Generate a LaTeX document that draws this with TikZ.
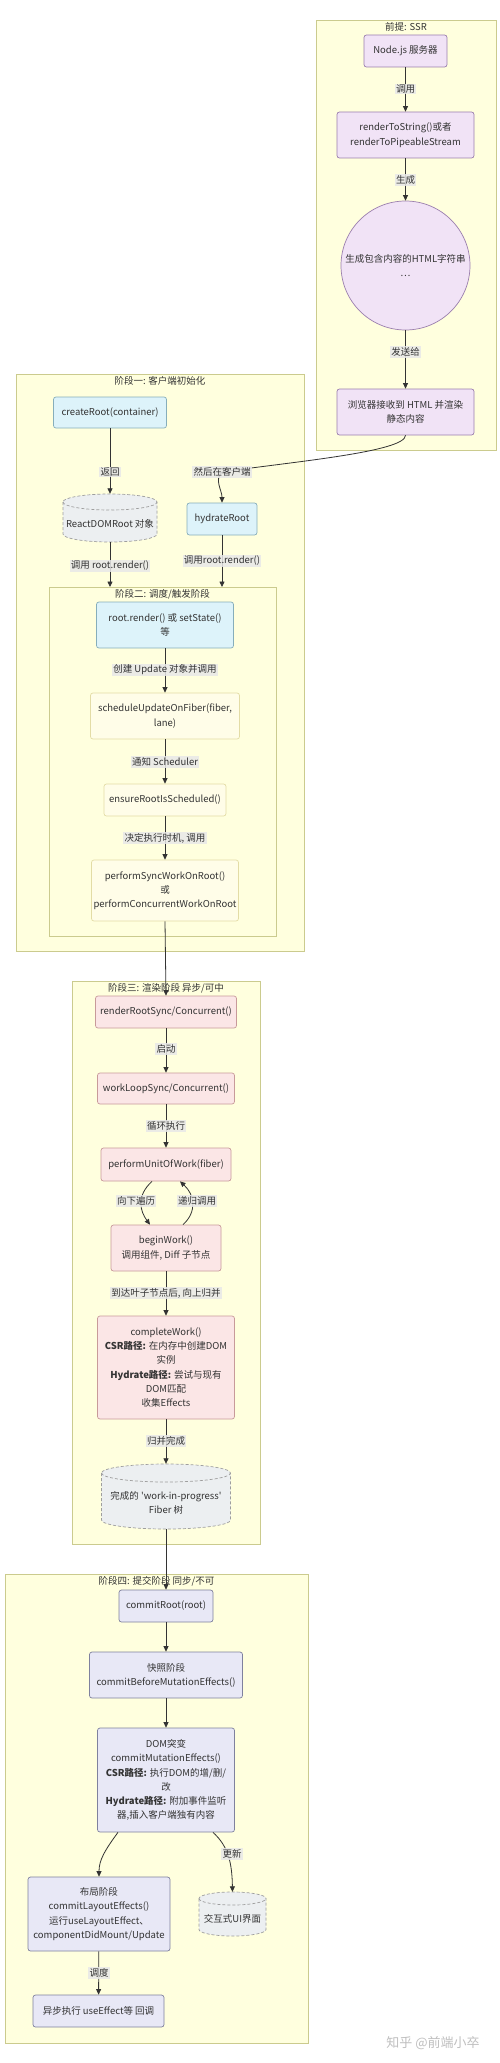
\documentclass[tikz,border=0pt]{standalone}
\usepackage{fontspec}
\setmainfont{Noto Sans CJK SC}
\usetikzlibrary{arrows.meta}
\definecolor{txt}{HTML}{333333}
\definecolor{edgec}{HTML}{333333}
\definecolor{lblbg}{HTML}{E8E8E8}
\definecolor{clfill}{HTML}{FFFFDE}
\definecolor{cldraw}{HTML}{CBCB8E}
\definecolor{ssrfill}{HTML}{F1E3F6}
\definecolor{ssrdraw}{HTML}{9B7FAE}
\definecolor{pAfill}{HTML}{DDF3FA}
\definecolor{pAdraw}{HTML}{86AEBB}
\definecolor{pBfill}{HTML}{FFFDE8}
\definecolor{pBdraw}{HTML}{E3DCA6}
\definecolor{pCfill}{HTML}{FBE6E6}
\definecolor{pCdraw}{HTML}{C89A9A}
\definecolor{pDfill}{HTML}{E8E8F6}
\definecolor{pDdraw}{HTML}{7F819E}
\definecolor{cylfill}{HTML}{ECEFF1}
\definecolor{cyldraw}{HTML}{9E9E9E}
\tikzset{
  cluster/.style={draw=cldraw, fill=clfill, line width=0.8pt},
  cltitle/.style={inner sep=0pt, text=txt, font=\fontsize{9.5}{12}\selectfont},
  nbox/.style={rectangle, rounded corners=2.5pt, line width=0.7pt, align=center, inner sep=0pt, text=txt, font=\fontsize{9.5}{14.2}\selectfont},
  ssrn/.style={nbox, draw=ssrdraw, fill=ssrfill},
  pAn/.style={nbox, draw=pAdraw, fill=pAfill},
  pBn/.style={nbox, draw=pBdraw, fill=pBfill},
  pCn/.style={nbox, draw=pCdraw, fill=pCfill},
  pDn/.style={nbox, draw=pDdraw, fill=pDfill},
  cylbox/.style={rectangle, inner sep=0pt},
  cyltxt/.style={inner sep=0pt, align=center, text=txt, font=\fontsize{9.5}{14.2}\selectfont},
  cylsty/.style={draw=cyldraw, fill=cylfill, line width=0.7pt, dash pattern=on 3pt off 2pt},
  conn/.style={draw=edgec, line width=0.8pt, -{Triangle[length=5.5pt,width=5pt]}},
  lbl/.style={fill=lblbg, fill opacity=0.85, text opacity=1, inner sep=1.2pt, text=txt, font=\fontsize{9.5}{12}\selectfont},
}
% cylinder: cx, cy, w, h, ry
\newcommand{\drawcyl}[5]{%
  \pgfmathsetmacro\cylL{#1-#3/2}\pgfmathsetmacro\cylR{#1+#3/2}%
  \pgfmathsetmacro\cylT{#2-#4/2+#5}\pgfmathsetmacro\cylB{#2+#4/2-#5}%
  \pgfmathsetmacro\cylkx{0.5523*#3/2}\pgfmathsetmacro\cylky{0.5523*#5}%
  \path[cylsty] (\cylL,\cylT) -- (\cylL,\cylB)
    .. controls (\cylL,\cylB+\cylky) and (#1-\cylkx,\cylB+#5) .. (#1,\cylB+#5)
    .. controls (#1+\cylkx,\cylB+#5) and (\cylR,\cylB+\cylky) .. (\cylR,\cylB)
    -- (\cylR,\cylT)
    .. controls (\cylR,\cylT-\cylky) and (#1+\cylkx,\cylT-#5) .. (#1,\cylT-#5)
    .. controls (#1-\cylkx,\cylT-#5) and (\cylL,\cylT-\cylky) .. (\cylL,\cylT) -- cycle;
  \draw[cylsty, fill=none] (\cylL,\cylT)
    .. controls (\cylL,\cylT+\cylky) and (#1-\cylkx,\cylT+#5) .. (#1,\cylT+#5)
    .. controls (#1+\cylkx,\cylT+#5) and (\cylR,\cylT+\cylky) .. (\cylR,\cylT);
}
\begin{document}
\begin{tikzpicture}[x=1pt,y=-1pt]
\useasboundingbox (0,0) rectangle (500,2063);
\fill[white] (0,0) rectangle (500,2063);

% clusters
\draw[cluster] (316,20) rectangle (496,450);
\node[cltitle] (t0) at (406,27) {前提: SSR};
\draw[cluster] (16,374) rectangle (304,951);
\node[cltitle] (t1) at (160,381) {阶段一: 客户端初始化};
\draw[cluster] (49,587) rectangle (276,936);
\node[cltitle] (t2) at (162.5,594) {阶段二: 调度/触发阶段};
\draw[cluster] (72,981) rectangle (260,1544);
\node[cltitle] (t3) at (166,988) {阶段三: 渲染阶段 异步/可中};
\draw[cluster] (5,1574) rectangle (308,2043);
\node[cltitle] (t4) at (156.5,1581) {阶段四: 提交阶段 同步/不可};

% SSR nodes
\node[ssrn, minimum width=83pt, minimum height=32pt] (nodejs) at (405.5,51) {Node.js 服务器};
\node[ssrn, minimum width=137pt, minimum height=46pt] (rts) at (405.5,135) {renderToString()或者\\renderToPipeableStream};
\node[ssrn, circle, minimum size=129pt] (html) at (405.5,265.5) {生成包含内容的HTML字符串\\…};
\node[ssrn, minimum width=137pt, minimum height=46pt] (browser) at (405.5,412) {浏览器接收到 HTML 并渲染\\静态内容};

% phase 1
\node[pAn, minimum width=113pt, minimum height=31pt] (create) at (110,412.5) {createRoot(container)};
\drawcyl{110}{518}{94}{48}{8}
\node[cylbox, minimum width=94pt, minimum height=48pt] (rdr) at (110,518) {};
\node[cyltxt] (rdrtxt) at (110,524) {ReactDOMRoot 对象};
\node[pAn, minimum width=70pt, minimum height=32pt] (hydr) at (222,519) {hydrateRoot};
\coordinate (p2a) at (110,587);
\coordinate (p2b) at (222,587);
\coordinate (hpass) at (222,472);

% phase 2
\node[pAn, minimum width=137pt, minimum height=46pt] (rr) at (165,625) {root.render() 或 setState()\\等};
\node[pBn, minimum width=149pt, minimum height=46pt] (sched) at (165,716) {scheduleUpdateOnFiber(fiber,\\lane)};
\node[pBn, minimum width=122pt, minimum height=32pt] (ensure) at (165,800) {ensureRootIsScheduled()};
\node[pBn, minimum width=147pt, minimum height=61pt] (perf) at (165,890.5) {performSyncWorkOnRoot()\\或\\performConcurrentWorkOnRoot};

% phase 3
\node[pCn, minimum width=141pt, minimum height=32pt] (rrs) at (166,1012) {renderRootSync/Concurrent()};
\node[pCn, minimum width=137pt, minimum height=31pt] (wl) at (166,1088.5) {workLoopSync/Concurrent()};
\node[pCn, minimum width=130pt, minimum height=33pt] (puw) at (166,1164.5) {performUnitOfWork(fiber)};
\node[pCn, minimum width=110pt, minimum height=46pt] (bw) at (166,1248) {beginWork()\\调用组件, Diff 子节点};
\node[pCn, minimum width=137pt, minimum height=103pt] (cw) at (166,1367.5) {completeWork()\\{\bfseries CSR路径:} 在内存中创建DOM\\实例\\{\bfseries Hydrate路径:} 尝试与现有\\DOM匹配\\收集Effects};
\drawcyl{166}{1496.5}{129}{65}{9}
\node[cylbox, minimum width=129pt, minimum height=65pt] (wip) at (166,1496.5) {};
\node[cyltxt] (wiptxt) at (166,1503) {完成的 \textquotesingle work-in-progress\textquotesingle\\Fiber 树};

% phase 4
\node[pDn, minimum width=94pt, minimum height=32pt] (cr) at (166,1606) {commitRoot(root)};
\node[pDn, minimum width=153pt, minimum height=46pt] (cb) at (166,1675) {快照阶段\\commitBeforeMutationEffects()};
\node[pDn, minimum width=137pt, minimum height=104pt] (dm) at (166,1780) {DOM突变\\commitMutationEffects()\\{\bfseries CSR路径:} 执行DOM的增/删/\\改\\{\bfseries Hydrate路径:} 附加事件监听\\器,插入客户端独有内容};
\node[pDn, minimum width=142pt, minimum height=74pt] (lay) at (99,1914) {布局阶段\\commitLayoutEffects()\\运行useLayoutEffect、\\componentDidMount/Update};
\drawcyl{232.5}{1914}{67}{44}{6.5}
\node[cylbox, minimum width=67pt, minimum height=44pt] (ui) at (232.5,1914) {};
\node[cyltxt] (uitxt) at (232.5,1919) {交互式UI界面};
\node[pDn, minimum width=131pt, minimum height=32pt] (asy) at (98.5,2011) {异步执行 useEffect等 回调};

% edges
\draw[conn] (nodejs) -- (rts);
\draw[conn] (rts) -- (html);
\draw[conn] (html) -- (browser);
\draw[conn] (browser.south) .. controls (405.5,452) and (290,462) .. (hpass) .. controls (214,480) and (222,490) .. (hydr.north);
\draw[conn] (create) -- (rdr);
\draw[conn] (rdr.south) -- (p2a);
\draw[conn] (hydr.south) -- (p2b);
\draw[conn] (rr) -- (sched);
\draw[conn] (sched) -- (ensure);
\draw[conn] (ensure) -- (perf);
\draw[conn] (perf.south) -- (rrs.north);
\draw[conn] (rrs) -- (wl);
\draw[conn] (wl) -- (puw);
\draw[conn] ([xshift=-14pt]puw.south) .. controls (136,1196) and (140,1211) .. ([xshift=-16pt]bw.north);
\draw[conn] ([xshift=17pt]bw.north) .. controls (197,1212) and (195,1195) .. ([xshift=14pt]puw.south);
\draw[conn] (bw) -- (cw);
\draw[conn] (cw) -- (wip);
\draw[conn] (wip.south) -- (cr.north);
\draw[conn] (cr) -- (cb);
\draw[conn] (cb) -- (dm);
\draw[conn] ([xshift=-48pt]dm.south) .. controls (105,1850) and (99,1860) .. (lay.north);
\draw[conn] ([xshift=47pt]dm.south) .. controls (228,1846) and (232,1862) .. (ui.north);
\draw[conn] (lay) -- (asy);

% edge labels
\node[lbl] (l1) at (405.5,89) {调用};
\node[lbl] (l2) at (405.5,180) {生成};
\node[lbl] (l3) at (405.5,352) {发送给};
\node[lbl] (l4) at (hpass) {然后在客户端};
\node[lbl] (l5) at (110,472) {返回};
\node[lbl] (l6) at (110,566) {调用 root.render()};
\node[lbl] (l7) at (222,561) {调用root.render()};
\node[lbl] (l8) at (165,670) {创建 Update 对象并调用};
\node[lbl] (l9) at (165,762) {通知 Scheduler};
\node[lbl] (l10) at (165,838) {决定执行时机, 调用};
\node[lbl] (l11) at (166,1049) {启动};
\node[lbl] (l12) at (166,1126) {循环执行};
\node[lbl] (l13) at (136,1201) {向下遍历};
\node[lbl] (l14) at (197,1201) {递归调用};
\node[lbl] (l15) at (166,1293) {到达叶子节点后, 向上归并};
\node[lbl] (l16) at (166,1441) {归并完成};
\node[lbl] (l17) at (232,1854) {更新};
\node[lbl] (l18) at (99,1973) {调度};

% watermark
\node[text=black!25, inner sep=0pt, font=\fontsize{13}{15}\selectfont] (wm) at (433,2043) {知乎 @前端小卒};
\end{tikzpicture}
\end{document}
